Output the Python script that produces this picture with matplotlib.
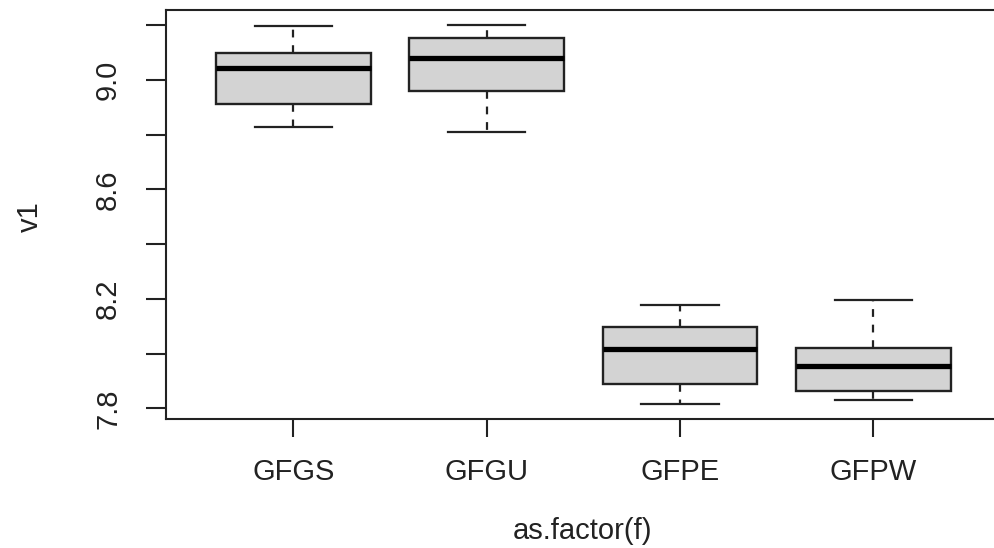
import matplotlib
matplotlib.use("Agg")
import matplotlib.pyplot as plt

plt.rcParams['font.family'] = ['Liberation Sans', 'DejaVu Sans']

# values
groups = ["GFGS", "GFGU", "GFPE", "GFPW"]
whislo = [8.827, 8.810, 7.816, 7.830]
q1 = [8.913, 8.960, 7.889, 7.865]
med = [9.044, 9.081, 8.016, 7.955]
q3 = [9.098, 9.152, 8.098, 8.020]
whishi = [9.195, 9.200, 8.178, 8.197]

yticks = [7.8, 8.0, 8.2, 8.4, 8.6, 8.8, 9.0, 9.2]
ylabels = ["7.8", "", "8.2", "", "8.6", "", "9.0", ""]

ink = "#222222"

stats = []
for i in range(len(groups)):
    stats.append({"label": groups[i], "whislo": whislo[i], "q1": q1[i],
                  "med": med[i], "q3": q3[i], "whishi": whishi[i], "fliers": []})

fig = plt.figure(figsize=(9.94, 5.48), dpi=100)
ax = fig.add_axes([0.1667, 0.2349, 0.8404, 0.7463])

ax.bxp(stats, positions=range(1, len(groups) + 1), widths=0.8, capwidths=0.4,
       patch_artist=True, showfliers=False,
       boxprops=dict(facecolor="#D3D3D3", edgecolor=ink, linewidth=1.7),
       medianprops=dict(color="black", linewidth=3.8, solid_capstyle="butt"),
       whiskerprops=dict(color=ink, linewidth=1.6, linestyle=(0, (3.5, 3.5))),
       capprops=dict(color=ink, linewidth=1.6))

ax.set_xlim(0.34, 4.66)
ax.set_ylim(7.760, 9.254)

ax.set_yticks(yticks)
ax.set_yticklabels(ylabels, rotation=90, va="center")
ax.set_xticks(range(1, len(groups) + 1))
ax.set_xticklabels(groups)

ax.tick_params(axis="y", length=14.4, width=1.5, color=ink, pad=17, labelsize=21, labelcolor=ink)
ax.tick_params(axis="x", length=13, width=1.5, color=ink, pad=15, labelsize=21, labelcolor=ink)

for s in ax.spines.values():
    s.set_linewidth(1.5)
    s.set_color(ink)

fig.text(30 / 994, 1 - 217 / 548, "v1", rotation=90, ha="center", va="center",
         fontsize=21, color=ink)
fig.text(583 / 994, 1 - 531 / 548, "as.factor(f)", ha="center", va="center",
         fontsize=21, color=ink)

fig.savefig("out.png", dpi=100)
